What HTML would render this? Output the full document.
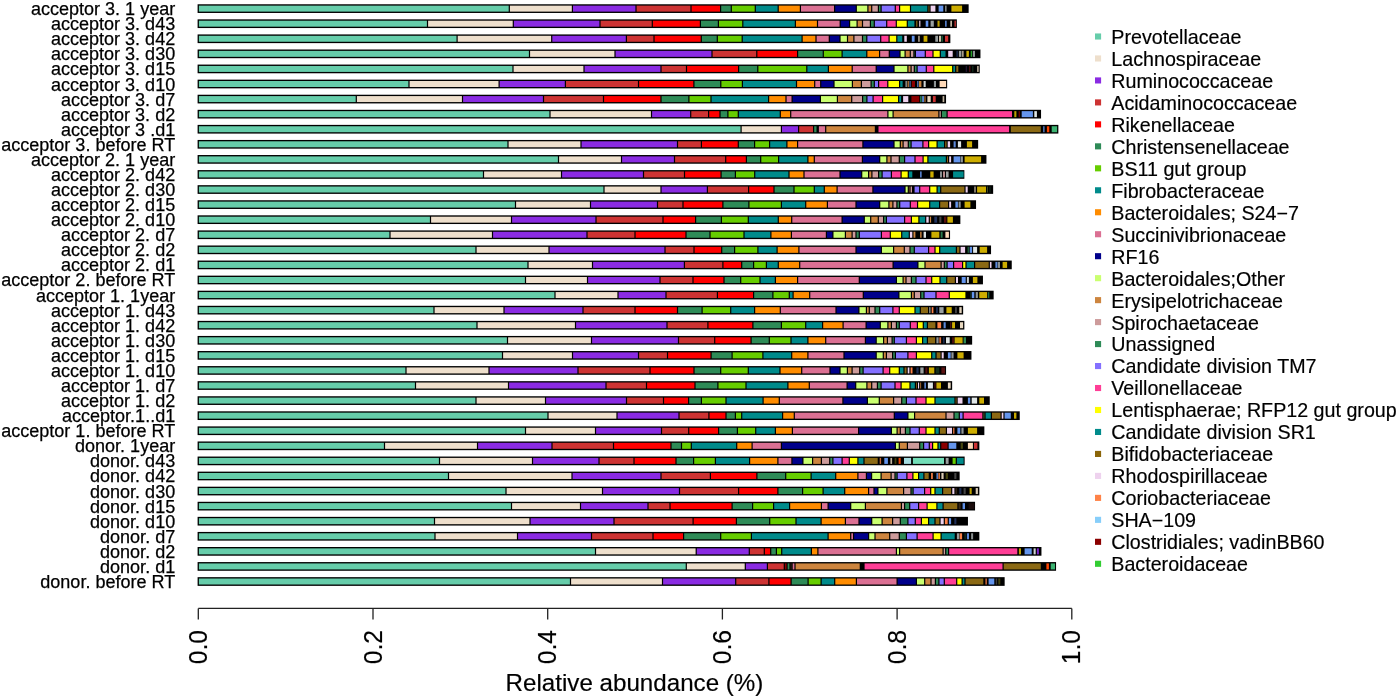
<!DOCTYPE html>
<html lang="en"><head><meta charset="utf-8"><title>Relative abundance</title>
<style>
html,body{margin:0;padding:0;background:#fff;}
body{width:1400px;height:698px;overflow:hidden;}
svg{display:block;filter:blur(0.3px);font-family:"Liberation Sans",sans-serif;}
.yl{font-size:18.03px;text-anchor:end;fill:#000;stroke:#000;stroke-width:.25px;}
.lg text{font-size:19.68px;fill:#000;stroke:#000;stroke-width:.18px;}
.tk{font-size:24.7px;text-anchor:middle;fill:#000;stroke:#000;stroke-width:.18px;}
.tt{font-size:24.17px;text-anchor:middle;fill:#000;stroke:#000;stroke-width:.18px;}
</style></head><body>
<svg width="1400" height="698" viewBox="0 0 1400 698">
<rect width="1400" height="698" fill="#fff"/>
<g shape-rendering="auto">
<g><rect x="197.6" y="4.27" width="771.05" height="8.7" fill="#000"/><rect x="198.9" y="5.62" width="309.8" height="6" fill="#66CDAA"/><rect x="509.9" y="5.62" width="61.9" height="6" fill="#EEDFCC"/><rect x="573" y="5.62" width="62.4" height="6" fill="#8A2BE2"/><rect x="636.6" y="5.62" width="53.8" height="6" fill="#CD3333"/><rect x="691.6" y="5.62" width="28.4" height="6" fill="#FF0000"/><rect x="721.2" y="5.62" width="9.5" height="6" fill="#2E8B57"/><rect x="731.9" y="5.62" width="22.8" height="6" fill="#66CD00"/><rect x="755.9" y="5.62" width="21.7" height="6" fill="#008B8B"/><rect x="778.8" y="5.62" width="21" height="6" fill="#FF8C00"/><rect x="801" y="5.62" width="33" height="6" fill="#DB7093"/><rect x="835.2" y="5.62" width="20.5" height="6" fill="#00008B"/><rect x="856.9" y="5.62" width="10.4" height="6" fill="#CAFF70"/><rect x="868.5" y="5.62" width="2.6" height="6" fill="#CD853F"/><rect x="872.3" y="5.62" width="5.5" height="6" fill="#CD9B9B"/><rect x="879" y="5.62" width="1.5" height="6" fill="#2E8B57"/><rect x="881.7" y="5.62" width="13" height="6" fill="#8470FF"/><rect x="895.9" y="5.62" width="3.1" height="6" fill="#FF3E96"/><rect x="900.2" y="5.62" width="9.7" height="6" fill="#FFFF00"/><rect x="911.1" y="5.62" width="16.2" height="6" fill="#008B8B"/><rect x="928.5" y="5.62" width="0.9" height="6" fill="#8B6914"/><rect x="930.6" y="5.62" width="4.8" height="6" fill="#EED2EE"/><rect x="938.6" y="5.62" width="4.7" height="6" fill="#6495ED"/><rect x="945" y="5.62" width="1.6" height="6" fill="#7E8383"/><rect x="951.4" y="5.62" width="10.7" height="6" fill="#CDAD00"/></g>
<g><rect x="197.6" y="19.35" width="759.25" height="8.7" fill="#000"/><rect x="198.9" y="20.7" width="228" height="6" fill="#66CDAA"/><rect x="428.1" y="20.7" width="84.6" height="6" fill="#EEDFCC"/><rect x="513.9" y="20.7" width="85.5" height="6" fill="#8A2BE2"/><rect x="600.6" y="20.7" width="51.1" height="6" fill="#CD3333"/><rect x="652.9" y="20.7" width="46.9" height="6" fill="#FF0000"/><rect x="701" y="20.7" width="16.8" height="6" fill="#2E8B57"/><rect x="719" y="20.7" width="23.2" height="6" fill="#66CD00"/><rect x="743.4" y="20.7" width="51.4" height="6" fill="#008B8B"/><rect x="796" y="20.7" width="20.9" height="6" fill="#FF8C00"/><rect x="818.1" y="20.7" width="21.5" height="6" fill="#DB7093"/><rect x="840.8" y="20.7" width="8.2" height="6" fill="#00008B"/><rect x="850.2" y="20.7" width="6.3" height="6" fill="#CAFF70"/><rect x="857.7" y="20.7" width="4.2" height="6" fill="#CD853F"/><rect x="863.1" y="20.7" width="6.7" height="6" fill="#CD9B9B"/><rect x="871" y="20.7" width="2.7" height="6" fill="#2E8B57"/><rect x="874.9" y="20.7" width="11.2" height="6" fill="#8470FF"/><rect x="887.3" y="20.7" width="8.4" height="6" fill="#FF3E96"/><rect x="896.9" y="20.7" width="9.8" height="6" fill="#FFFF00"/><rect x="907.9" y="20.7" width="6.5" height="6" fill="#008B8B"/><rect x="916" y="20.7" width="1.5" height="6" fill="#6F5410"/><rect x="919" y="20.7" width="1.5" height="6" fill="#BEA8BE"/><rect x="925.7" y="20.7" width="2.6" height="6" fill="#6495ED"/><rect x="930.6" y="20.7" width="3.2" height="6" fill="#9AA0A0"/><rect x="937.5" y="20.7" width="2.1" height="6" fill="#BC9F00"/><rect x="945" y="20.7" width="1.7" height="6" fill="#547DC7"/><rect x="950.3" y="20.7" width="1.7" height="6" fill="#C2B5A1"/><rect x="954.4" y="20.7" width="1.6" height="6" fill="#A82929"/></g>
<g><rect x="197.6" y="34.42" width="752.75" height="8.7" fill="#000"/><rect x="198.9" y="35.77" width="257.6" height="6" fill="#66CDAA"/><rect x="457.7" y="35.77" width="93.4" height="6" fill="#EEDFCC"/><rect x="552.3" y="35.77" width="73.5" height="6" fill="#8A2BE2"/><rect x="627" y="35.77" width="26.4" height="6" fill="#CD3333"/><rect x="654.6" y="35.77" width="46.1" height="6" fill="#FF0000"/><rect x="701.9" y="35.77" width="14.8" height="6" fill="#2E8B57"/><rect x="717.9" y="35.77" width="23.7" height="6" fill="#66CD00"/><rect x="742.8" y="35.77" width="58.7" height="6" fill="#008B8B"/><rect x="802.7" y="35.77" width="12.7" height="6" fill="#FF8C00"/><rect x="816.6" y="35.77" width="12.1" height="6" fill="#DB7093"/><rect x="829.9" y="35.77" width="9.5" height="6" fill="#00008B"/><rect x="840.6" y="35.77" width="6.3" height="6" fill="#CAFF70"/><rect x="848.1" y="35.77" width="5.2" height="6" fill="#CD853F"/><rect x="854.5" y="35.77" width="7.4" height="6" fill="#CD9B9B"/><rect x="863.1" y="35.77" width="3.1" height="6" fill="#2E8B57"/><rect x="867.4" y="35.77" width="12.7" height="6" fill="#8470FF"/><rect x="881.3" y="35.77" width="7.2" height="6" fill="#FF3E96"/><rect x="889.7" y="35.77" width="6.5" height="6" fill="#FFFF00"/><rect x="897.4" y="35.77" width="4.8" height="6" fill="#008B8B"/><rect x="904.3" y="35.77" width="2.5" height="6" fill="#EED2EE"/><rect x="911.8" y="35.77" width="2.8" height="6" fill="#6495ED"/><rect x="918.2" y="35.77" width="1.5" height="6" fill="#B9AC99"/><rect x="923.6" y="35.77" width="3.8" height="6" fill="#CDAD00"/><rect x="935.3" y="35.77" width="2.7" height="6" fill="#9AA0A0"/><rect x="939" y="35.77" width="2" height="6" fill="#D0C2AC"/><rect x="941.5" y="35.77" width="1.3" height="6" fill="#226942"/><rect x="945" y="35.77" width="3.2" height="6" fill="#CD3333"/></g>
<g><rect x="197.6" y="49.5" width="782.85" height="8.7" fill="#000"/><rect x="198.9" y="50.85" width="330" height="6" fill="#66CDAA"/><rect x="530.1" y="50.85" width="84.3" height="6" fill="#EEDFCC"/><rect x="615.6" y="50.85" width="95.8" height="6" fill="#8A2BE2"/><rect x="712.6" y="50.85" width="43.6" height="6" fill="#CD3333"/><rect x="757.4" y="50.85" width="39.6" height="6" fill="#FF0000"/><rect x="798.2" y="50.85" width="24.5" height="6" fill="#2E8B57"/><rect x="823.9" y="50.85" width="17.6" height="6" fill="#66CD00"/><rect x="842.7" y="50.85" width="23.5" height="6" fill="#008B8B"/><rect x="867.4" y="50.85" width="11.6" height="6" fill="#FF8C00"/><rect x="880.2" y="50.85" width="8.5" height="6" fill="#DB7093"/><rect x="889.9" y="50.85" width="9.5" height="6" fill="#00008B"/><rect x="900.6" y="50.85" width="3.9" height="6" fill="#CAFF70"/><rect x="905.7" y="50.85" width="4" height="6" fill="#CD853F"/><rect x="910.9" y="50.85" width="2.4" height="6" fill="#CD9B9B"/><rect x="914.5" y="50.85" width="0.3" height="6" fill="#2E8B57"/><rect x="916" y="50.85" width="8.7" height="6" fill="#8470FF"/><rect x="925.9" y="50.85" width="6.5" height="6" fill="#FF3E96"/><rect x="933.6" y="50.85" width="6.1" height="6" fill="#FFFF00"/><rect x="940.9" y="50.85" width="4.6" height="6" fill="#008B8B"/><rect x="948.2" y="50.85" width="4.5" height="6" fill="#EED2EE"/><rect x="956.4" y="50.85" width="1.5" height="6" fill="#1B284B"/><rect x="958.9" y="50.85" width="2.5" height="6" fill="#9AA0A0"/><rect x="962.1" y="50.85" width="1.5" height="6" fill="#B9AC99"/><rect x="966.4" y="50.85" width="2.5" height="6" fill="#CDAD00"/><rect x="970.7" y="50.85" width="1.4" height="6" fill="#269F26"/><rect x="972.9" y="50.85" width="2.1" height="6" fill="#8D9393"/></g>
<g><rect x="197.6" y="64.57" width="782.15" height="8.7" fill="#000"/><rect x="198.9" y="65.92" width="313.5" height="6" fill="#66CDAA"/><rect x="513.6" y="65.92" width="69.8" height="6" fill="#EEDFCC"/><rect x="584.6" y="65.92" width="75.8" height="6" fill="#8A2BE2"/><rect x="661.6" y="65.92" width="24.3" height="6" fill="#CD3333"/><rect x="687.1" y="65.92" width="50.9" height="6" fill="#FF0000"/><rect x="739.2" y="65.92" width="18" height="6" fill="#2E8B57"/><rect x="758.4" y="65.92" width="47.8" height="6" fill="#66CD00"/><rect x="807.4" y="65.92" width="20.4" height="6" fill="#008B8B"/><rect x="829" y="65.92" width="22.6" height="6" fill="#FF8C00"/><rect x="852.8" y="65.92" width="22.8" height="6" fill="#DB7093"/><rect x="876.8" y="65.92" width="16.6" height="6" fill="#00008B"/><rect x="894.6" y="65.92" width="12.7" height="6" fill="#CAFF70"/><rect x="908.5" y="65.92" width="2" height="6" fill="#CD853F"/><rect x="911.7" y="65.92" width="2" height="6" fill="#CD9B9B"/><rect x="914.9" y="65.92" width="1.6" height="6" fill="#2E8B57"/><rect x="917.7" y="65.92" width="8" height="6" fill="#8470FF"/><rect x="926.9" y="65.92" width="6.3" height="6" fill="#FF3E96"/><rect x="934.4" y="65.92" width="17.7" height="6" fill="#FFFF00"/><rect x="953.3" y="65.92" width="1.8" height="6" fill="#008B8B"/><rect x="956.3" y="65.92" width="2" height="6" fill="#8B6914"/><rect x="965.7" y="65.92" width="1.3" height="6" fill="#1F1330"/><rect x="969" y="65.92" width="1.5" height="6" fill="#480E0E"/><rect x="972" y="65.92" width="1.5" height="6" fill="#102618"/><rect x="977.1" y="65.92" width="1.6" height="6" fill="#BEB19D"/></g>
<g><rect x="197.6" y="79.65" width="749.55" height="8.7" fill="#000"/><rect x="198.9" y="81" width="209.5" height="6" fill="#66CDAA"/><rect x="409.6" y="81" width="88.9" height="6" fill="#EEDFCC"/><rect x="499.7" y="81" width="65.1" height="6" fill="#8A2BE2"/><rect x="566" y="81" width="71.9" height="6" fill="#CD3333"/><rect x="639.1" y="81" width="54.2" height="6" fill="#FF0000"/><rect x="694.5" y="81" width="25.7" height="6" fill="#2E8B57"/><rect x="721.4" y="81" width="20.4" height="6" fill="#66CD00"/><rect x="743" y="81" width="52.9" height="6" fill="#008B8B"/><rect x="797.1" y="81" width="17" height="6" fill="#FF8C00"/><rect x="815.3" y="81" width="4.8" height="6" fill="#DB7093"/><rect x="821.3" y="81" width="12.1" height="6" fill="#00008B"/><rect x="834.6" y="81" width="17.2" height="6" fill="#CAFF70"/><rect x="853" y="81" width="7.8" height="6" fill="#CD853F"/><rect x="862" y="81" width="8.5" height="6" fill="#CD9B9B"/><rect x="871.7" y="81" width="2" height="6" fill="#2E8B57"/><rect x="874.9" y="81" width="3.1" height="6" fill="#8470FF"/><rect x="879.2" y="81" width="8" height="6" fill="#FF3E96"/><rect x="888.4" y="81" width="10.6" height="6" fill="#FFFF00"/><rect x="900.2" y="81" width="2.4" height="6" fill="#008B8B"/><rect x="905.4" y="81" width="1.6" height="6" fill="#7E8383"/><rect x="907.5" y="81" width="1.5" height="6" fill="#A46A32"/><rect x="909.5" y="81" width="1.2" height="6" fill="#4A6EAF"/><rect x="911.8" y="81" width="3.2" height="6" fill="#8B0000"/><rect x="917.1" y="81" width="1.4" height="6" fill="#4D74B8"/><rect x="919" y="81" width="2.4" height="6" fill="#C8823D"/><rect x="923.6" y="81" width="2.1" height="6" fill="#CED3D3"/><rect x="933.9" y="81" width="2.1" height="6" fill="#8D9393"/><rect x="939.6" y="81" width="6.5" height="6" fill="#FFDAB9"/></g>
<g><rect x="197.6" y="94.73" width="748.45" height="8.7" fill="#000"/><rect x="198.9" y="96.08" width="156.8" height="6" fill="#66CDAA"/><rect x="356.9" y="96.08" width="105" height="6" fill="#EEDFCC"/><rect x="463.1" y="96.08" width="79.8" height="6" fill="#8A2BE2"/><rect x="544.1" y="96.08" width="58.8" height="6" fill="#CD3333"/><rect x="604.1" y="96.08" width="56.3" height="6" fill="#FF0000"/><rect x="661.6" y="96.08" width="26.7" height="6" fill="#2E8B57"/><rect x="689.5" y="96.08" width="20.9" height="6" fill="#66CD00"/><rect x="711.6" y="96.08" width="56.4" height="6" fill="#008B8B"/><rect x="769.2" y="96.08" width="16.2" height="6" fill="#FF8C00"/><rect x="786.6" y="96.08" width="4.9" height="6" fill="#DB7093"/><rect x="792.7" y="96.08" width="27.1" height="6" fill="#00008B"/><rect x="821" y="96.08" width="15.8" height="6" fill="#CAFF70"/><rect x="838" y="96.08" width="13.1" height="6" fill="#CD853F"/><rect x="852.3" y="96.08" width="9.7" height="6" fill="#CD9B9B"/><rect x="863.2" y="96.08" width="3.1" height="6" fill="#2E8B57"/><rect x="867.5" y="96.08" width="5" height="6" fill="#8470FF"/><rect x="873.7" y="96.08" width="8.3" height="6" fill="#FF3E96"/><rect x="883.2" y="96.08" width="14.8" height="6" fill="#FFFF00"/><rect x="899.2" y="96.08" width="1.9" height="6" fill="#008B8B"/><rect x="903.1" y="96.08" width="5.2" height="6" fill="#EED2EE"/><rect x="911.4" y="96.08" width="7.9" height="6" fill="#8B0000"/><rect x="920" y="96.08" width="1.7" height="6" fill="#267449"/><rect x="922.1" y="96.08" width="1.9" height="6" fill="#5783D0"/><rect x="924.3" y="96.08" width="1.4" height="6" fill="#9F6731"/><rect x="927.4" y="96.08" width="3.3" height="6" fill="#E8D8C0"/><rect x="932.9" y="96.08" width="2.8" height="6" fill="#CD3333"/><rect x="942.6" y="96.08" width="1.7" height="6" fill="#C2B5A1"/></g>
<g><rect x="197.6" y="109.8" width="843.45" height="8.7" fill="#000"/><rect x="198.9" y="111.15" width="350.5" height="6" fill="#66CDAA"/><rect x="550.6" y="111.15" width="100.3" height="6" fill="#EEDFCC"/><rect x="652.1" y="111.15" width="38" height="6" fill="#8A2BE2"/><rect x="691.3" y="111.15" width="16.7" height="6" fill="#CD3333"/><rect x="709.2" y="111.15" width="10.2" height="6" fill="#FF0000"/><rect x="720.6" y="111.15" width="6.7" height="6" fill="#2E8B57"/><rect x="728.5" y="111.15" width="9.2" height="6" fill="#66CD00"/><rect x="738.9" y="111.15" width="40.8" height="6" fill="#008B8B"/><rect x="780.9" y="111.15" width="9.2" height="6" fill="#FF8C00"/><rect x="791.3" y="111.15" width="96" height="6" fill="#DB7093"/><rect x="888.5" y="111.15" width="4" height="6" fill="#CAFF70"/><rect x="893.7" y="111.15" width="44.6" height="6" fill="#CD853F"/><rect x="939.5" y="111.15" width="1.3" height="6" fill="#CD9B9B"/><rect x="942" y="111.15" width="4.5" height="6" fill="#2E8B57"/><rect x="947.7" y="111.15" width="64.3" height="6" fill="#FF3E96"/><rect x="1014.3" y="111.15" width="2.1" height="6" fill="#BC9F00"/><rect x="1018.6" y="111.15" width="1.4" height="6" fill="#6C0000"/><rect x="1021.7" y="111.15" width="11.2" height="6" fill="#6495ED"/><rect x="1034.3" y="111.15" width="2.6" height="6" fill="#E0E6E6"/></g>
<g><rect x="197.6" y="124.88" width="860.75" height="8.7" fill="#000"/><rect x="198.9" y="126.23" width="541.6" height="6" fill="#66CDAA"/><rect x="741.7" y="126.23" width="39.1" height="6" fill="#EEDFCC"/><rect x="782" y="126.23" width="16" height="6" fill="#8A2BE2"/><rect x="799.2" y="126.23" width="13.8" height="6" fill="#CD3333"/><rect x="814.2" y="126.23" width="2.3" height="6" fill="#2E8B57"/><rect x="818.9" y="126.23" width="6.2" height="6" fill="#DB7093"/><rect x="826.3" y="126.23" width="48.5" height="6" fill="#CD853F"/><rect x="878.5" y="126.23" width="130.6" height="6" fill="#FF3E96"/><rect x="1010.8" y="126.23" width="30" height="6" fill="#8B6914"/><rect x="1043.1" y="126.23" width="1.5" height="6" fill="#5077BD"/><rect x="1046.9" y="126.23" width="2.4" height="6" fill="#F94300"/><rect x="1051.7" y="126.23" width="5.4" height="6" fill="#3CB371"/></g>
<g><rect x="197.6" y="139.95" width="780.55" height="8.7" fill="#000"/><rect x="198.9" y="141.3" width="308.5" height="6" fill="#66CDAA"/><rect x="508.6" y="141.3" width="71.8" height="6" fill="#EEDFCC"/><rect x="581.6" y="141.3" width="95.3" height="6" fill="#8A2BE2"/><rect x="678.1" y="141.3" width="22.7" height="6" fill="#CD3333"/><rect x="702" y="141.3" width="35.7" height="6" fill="#FF0000"/><rect x="738.9" y="141.3" width="15.1" height="6" fill="#2E8B57"/><rect x="755.2" y="141.3" width="13.8" height="6" fill="#66CD00"/><rect x="770.2" y="141.3" width="16.1" height="6" fill="#008B8B"/><rect x="787.5" y="141.3" width="9.5" height="6" fill="#FF8C00"/><rect x="798.2" y="141.3" width="64.1" height="6" fill="#DB7093"/><rect x="863.5" y="141.3" width="29.9" height="6" fill="#00008B"/><rect x="894.6" y="141.3" width="5.1" height="6" fill="#CAFF70"/><rect x="900.9" y="141.3" width="1.6" height="6" fill="#CD853F"/><rect x="903.7" y="141.3" width="4" height="6" fill="#CD9B9B"/><rect x="908.9" y="141.3" width="1.6" height="6" fill="#2E8B57"/><rect x="911.7" y="141.3" width="10.6" height="6" fill="#8470FF"/><rect x="923.5" y="141.3" width="4.5" height="6" fill="#FF3E96"/><rect x="929.2" y="141.3" width="7.3" height="6" fill="#FFFF00"/><rect x="937.7" y="141.3" width="6.3" height="6" fill="#008B8B"/><rect x="945.2" y="141.3" width="1.3" height="6" fill="#8B6914"/><rect x="947.7" y="141.3" width="2.4" height="6" fill="#EED2EE"/><rect x="953.6" y="141.3" width="2.1" height="6" fill="#5C89DA"/><rect x="957.9" y="141.3" width="3.2" height="6" fill="#E0E6E6"/><rect x="966.9" y="141.3" width="5.2" height="6" fill="#CDAD00"/></g>
<g><rect x="197.6" y="155.03" width="788.85" height="8.7" fill="#000"/><rect x="198.9" y="156.38" width="359" height="6" fill="#66CDAA"/><rect x="559.1" y="156.38" width="61.8" height="6" fill="#EEDFCC"/><rect x="622.1" y="156.38" width="51.8" height="6" fill="#8A2BE2"/><rect x="675.1" y="156.38" width="50" height="6" fill="#CD3333"/><rect x="726.3" y="156.38" width="19.5" height="6" fill="#FF0000"/><rect x="747" y="156.38" width="13.1" height="6" fill="#2E8B57"/><rect x="761.3" y="156.38" width="16.7" height="6" fill="#66CD00"/><rect x="779.2" y="156.38" width="28.1" height="6" fill="#008B8B"/><rect x="808.5" y="156.38" width="5.2" height="6" fill="#FF8C00"/><rect x="814.9" y="156.38" width="46.9" height="6" fill="#DB7093"/><rect x="863" y="156.38" width="16.1" height="6" fill="#00008B"/><rect x="880.3" y="156.38" width="6" height="6" fill="#CAFF70"/><rect x="887.5" y="156.38" width="2.9" height="6" fill="#CD853F"/><rect x="891.6" y="156.38" width="7.1" height="6" fill="#CD9B9B"/><rect x="899.9" y="156.38" width="4.1" height="6" fill="#2E8B57"/><rect x="905.2" y="156.38" width="9.2" height="6" fill="#8470FF"/><rect x="915.6" y="156.38" width="6.9" height="6" fill="#FF3E96"/><rect x="923.7" y="156.38" width="3.6" height="6" fill="#FFFF00"/><rect x="928.5" y="156.38" width="17.3" height="6" fill="#008B8B"/><rect x="947" y="156.38" width="1" height="6" fill="#8B6914"/><rect x="949.2" y="156.38" width="1.9" height="6" fill="#EED2EE"/><rect x="953.6" y="156.38" width="6.7" height="6" fill="#6495ED"/><rect x="960.7" y="156.38" width="2.2" height="6" fill="#909696"/><rect x="964.6" y="156.38" width="16.5" height="6" fill="#CDAD00"/></g>
<g><rect x="197.6" y="170.11" width="766.75" height="8.7" fill="#000"/><rect x="198.9" y="171.46" width="284" height="6" fill="#66CDAA"/><rect x="484.1" y="171.46" width="76.8" height="6" fill="#EEDFCC"/><rect x="562.1" y="171.46" width="80.8" height="6" fill="#8A2BE2"/><rect x="644.1" y="171.46" width="39.8" height="6" fill="#CD3333"/><rect x="685.1" y="171.46" width="35.4" height="6" fill="#FF0000"/><rect x="721.7" y="171.46" width="13.1" height="6" fill="#2E8B57"/><rect x="736" y="171.46" width="18.1" height="6" fill="#66CD00"/><rect x="755.3" y="171.46" width="33.1" height="6" fill="#008B8B"/><rect x="789.6" y="171.46" width="13.8" height="6" fill="#FF8C00"/><rect x="804.6" y="171.46" width="34.8" height="6" fill="#DB7093"/><rect x="840.6" y="171.46" width="20.5" height="6" fill="#00008B"/><rect x="862.3" y="171.46" width="5.7" height="6" fill="#CAFF70"/><rect x="869.2" y="171.46" width="2.1" height="6" fill="#CD853F"/><rect x="872.5" y="171.46" width="5.5" height="6" fill="#CD9B9B"/><rect x="879.2" y="171.46" width="2.3" height="6" fill="#2E8B57"/><rect x="882.7" y="171.46" width="8.1" height="6" fill="#8470FF"/><rect x="892" y="171.46" width="8.5" height="6" fill="#FF3E96"/><rect x="901.7" y="171.46" width="6" height="6" fill="#FFFF00"/><rect x="908.9" y="171.46" width="3.4" height="6" fill="#008B8B"/><rect x="920" y="171.46" width="1.7" height="6" fill="#547DC7"/><rect x="930.3" y="171.46" width="3.3" height="6" fill="#CDAD00"/><rect x="940" y="171.46" width="2" height="6" fill="#8A9090"/><rect x="943" y="171.46" width="2" height="6" fill="#B88B8B"/><rect x="946" y="171.46" width="2.6" height="6" fill="#9AA0A0"/><rect x="953.1" y="171.46" width="10.5" height="6" fill="#008B8B"/></g>
<g><rect x="197.6" y="185.18" width="795.55" height="8.7" fill="#000"/><rect x="198.9" y="186.53" width="404.5" height="6" fill="#66CDAA"/><rect x="604.6" y="186.53" width="55.8" height="6" fill="#EEDFCC"/><rect x="661.6" y="186.53" width="45.2" height="6" fill="#8A2BE2"/><rect x="708" y="186.53" width="40" height="6" fill="#CD3333"/><rect x="749.2" y="186.53" width="24.2" height="6" fill="#FF0000"/><rect x="774.6" y="186.53" width="18.8" height="6" fill="#2E8B57"/><rect x="794.6" y="186.53" width="19.1" height="6" fill="#66CD00"/><rect x="814.9" y="186.53" width="8.8" height="6" fill="#008B8B"/><rect x="824.9" y="186.53" width="11.6" height="6" fill="#FF8C00"/><rect x="837.7" y="186.53" width="34.6" height="6" fill="#DB7093"/><rect x="873.5" y="186.53" width="30.9" height="6" fill="#00008B"/><rect x="905.6" y="186.53" width="2.1" height="6" fill="#CAFF70"/><rect x="908.9" y="186.53" width="0.5" height="6" fill="#CD853F"/><rect x="910.6" y="186.53" width="1.4" height="6" fill="#CD9B9B"/><rect x="914.6" y="186.53" width="4.5" height="6" fill="#8470FF"/><rect x="920.3" y="186.53" width="8.8" height="6" fill="#FF3E96"/><rect x="930.3" y="186.53" width="6.2" height="6" fill="#FFFF00"/><rect x="937.7" y="186.53" width="2.4" height="6" fill="#008B8B"/><rect x="941.3" y="186.53" width="23.1" height="6" fill="#8B6914"/><rect x="965.6" y="186.53" width="2.1" height="6" fill="#EED2EE"/><rect x="974.3" y="186.53" width="1.4" height="6" fill="#B4A895"/><rect x="977.1" y="186.53" width="8.9" height="6" fill="#CDAD00"/><rect x="986.9" y="186.53" width="1.1" height="6" fill="#3D4D21"/><rect x="989.3" y="186.53" width="1.3" height="6" fill="#0F2416"/></g>
<g><rect x="197.6" y="200.26" width="778.45" height="8.7" fill="#000"/><rect x="198.9" y="201.61" width="316" height="6" fill="#66CDAA"/><rect x="516.1" y="201.61" width="73.8" height="6" fill="#EEDFCC"/><rect x="591.1" y="201.61" width="65.8" height="6" fill="#8A2BE2"/><rect x="658.1" y="201.61" width="24.3" height="6" fill="#CD3333"/><rect x="683.6" y="201.61" width="38.7" height="6" fill="#FF0000"/><rect x="723.5" y="201.61" width="24.8" height="6" fill="#2E8B57"/><rect x="749.5" y="201.61" width="31.3" height="6" fill="#66CD00"/><rect x="782" y="201.61" width="23.1" height="6" fill="#008B8B"/><rect x="806.3" y="201.61" width="20.5" height="6" fill="#FF8C00"/><rect x="828" y="201.61" width="27.4" height="6" fill="#DB7093"/><rect x="856.6" y="201.61" width="22.5" height="6" fill="#00008B"/><rect x="880.3" y="201.61" width="8" height="6" fill="#CAFF70"/><rect x="889.5" y="201.61" width="2.8" height="6" fill="#CD853F"/><rect x="893.5" y="201.61" width="2.8" height="6" fill="#CD9B9B"/><rect x="897.5" y="201.61" width="1.6" height="6" fill="#2E8B57"/><rect x="900.3" y="201.61" width="9.4" height="6" fill="#8470FF"/><rect x="910.9" y="201.61" width="6.1" height="6" fill="#FF3E96"/><rect x="918.2" y="201.61" width="10.9" height="6" fill="#FFFF00"/><rect x="930.3" y="201.61" width="8.7" height="6" fill="#008B8B"/><rect x="940.2" y="201.61" width="7.8" height="6" fill="#8B6914"/><rect x="949.2" y="201.61" width="1.9" height="6" fill="#EED2EE"/><rect x="955.4" y="201.61" width="2.5" height="6" fill="#6495ED"/><rect x="958.6" y="201.61" width="2.1" height="6" fill="#8D9393"/><rect x="964.6" y="201.61" width="5.8" height="6" fill="#CDAD00"/></g>
<g><rect x="197.6" y="215.33" width="762.75" height="8.7" fill="#000"/><rect x="198.9" y="216.68" width="231" height="6" fill="#66CDAA"/><rect x="431.1" y="216.68" width="79.8" height="6" fill="#EEDFCC"/><rect x="512.1" y="216.68" width="83.3" height="6" fill="#8A2BE2"/><rect x="596.6" y="216.68" width="65.8" height="6" fill="#CD3333"/><rect x="663.6" y="216.68" width="31.4" height="6" fill="#FF0000"/><rect x="696.2" y="216.68" width="24.6" height="6" fill="#2E8B57"/><rect x="722" y="216.68" width="25.7" height="6" fill="#66CD00"/><rect x="748.9" y="216.68" width="28.8" height="6" fill="#008B8B"/><rect x="778.9" y="216.68" width="12.2" height="6" fill="#FF8C00"/><rect x="792.3" y="216.68" width="49.2" height="6" fill="#DB7093"/><rect x="842.7" y="216.68" width="21" height="6" fill="#00008B"/><rect x="864.9" y="216.68" width="5.2" height="6" fill="#CAFF70"/><rect x="871.3" y="216.68" width="6.4" height="6" fill="#CD853F"/><rect x="878.9" y="216.68" width="4.1" height="6" fill="#CD9B9B"/><rect x="884.2" y="216.68" width="1.6" height="6" fill="#2E8B57"/><rect x="887" y="216.68" width="17" height="6" fill="#8470FF"/><rect x="905.2" y="216.68" width="5.6" height="6" fill="#FF3E96"/><rect x="912" y="216.68" width="6.3" height="6" fill="#FFFF00"/><rect x="919.5" y="216.68" width="5.6" height="6" fill="#008B8B"/><rect x="926.3" y="216.68" width="2.4" height="6" fill="#EED2EE"/><rect x="929.9" y="216.68" width="1.2" height="6" fill="#CD853F"/><rect x="934.3" y="216.68" width="2.8" height="6" fill="#22335E"/><rect x="939.3" y="216.68" width="2.1" height="6" fill="#444444"/><rect x="944" y="216.68" width="2.4" height="6" fill="#581111"/><rect x="947.4" y="216.68" width="5.5" height="6" fill="#CDAD00"/></g>
<g><rect x="197.6" y="230.41" width="752.45" height="8.7" fill="#000"/><rect x="198.9" y="231.76" width="190.5" height="6" fill="#66CDAA"/><rect x="390.6" y="231.76" width="101.3" height="6" fill="#EEDFCC"/><rect x="493.1" y="231.76" width="93.3" height="6" fill="#8A2BE2"/><rect x="587.6" y="231.76" width="46.8" height="6" fill="#CD3333"/><rect x="635.6" y="231.76" width="49.8" height="6" fill="#FF0000"/><rect x="686.6" y="231.76" width="22.8" height="6" fill="#2E8B57"/><rect x="710.6" y="231.76" width="32.8" height="6" fill="#66CD00"/><rect x="744.6" y="231.76" width="25.7" height="6" fill="#008B8B"/><rect x="771.5" y="231.76" width="19.3" height="6" fill="#FF8C00"/><rect x="792" y="231.76" width="33.8" height="6" fill="#DB7093"/><rect x="827" y="231.76" width="5.3" height="6" fill="#00008B"/><rect x="833.5" y="231.76" width="11.3" height="6" fill="#CAFF70"/><rect x="846" y="231.76" width="5.5" height="6" fill="#CD853F"/><rect x="852.7" y="231.76" width="2.7" height="6" fill="#CD9B9B"/><rect x="856.6" y="231.76" width="2.1" height="6" fill="#2E8B57"/><rect x="859.9" y="231.76" width="20.9" height="6" fill="#8470FF"/><rect x="882" y="231.76" width="7.7" height="6" fill="#FF3E96"/><rect x="890.9" y="231.76" width="10.2" height="6" fill="#FFFF00"/><rect x="902.3" y="231.76" width="6.4" height="6" fill="#008B8B"/><rect x="909.9" y="231.76" width="2.4" height="6" fill="#EED2EE"/><rect x="913.5" y="231.76" width="1.9" height="6" fill="#CD853F"/><rect x="920" y="231.76" width="1.7" height="6" fill="#AC6F34"/><rect x="923.6" y="231.76" width="2.4" height="6" fill="#DBE1E1"/><rect x="931.4" y="231.76" width="7.9" height="6" fill="#CDAD00"/><rect x="940.7" y="231.76" width="1.9" height="6" fill="#287A4C"/><rect x="945.4" y="231.76" width="3.5" height="6" fill="#FFDAB9"/></g>
<g><rect x="197.6" y="245.49" width="793.45" height="8.7" fill="#000"/><rect x="198.9" y="246.84" width="276.5" height="6" fill="#66CDAA"/><rect x="476.6" y="246.84" width="71.8" height="6" fill="#EEDFCC"/><rect x="549.6" y="246.84" width="114.8" height="6" fill="#8A2BE2"/><rect x="665.6" y="246.84" width="27.8" height="6" fill="#CD3333"/><rect x="694.6" y="246.84" width="26.5" height="6" fill="#FF0000"/><rect x="722.3" y="246.84" width="11.7" height="6" fill="#2E8B57"/><rect x="735.2" y="246.84" width="22.1" height="6" fill="#66CD00"/><rect x="758.5" y="246.84" width="18" height="6" fill="#008B8B"/><rect x="777.7" y="246.84" width="20.6" height="6" fill="#FF8C00"/><rect x="799.5" y="246.84" width="55.9" height="6" fill="#DB7093"/><rect x="856.6" y="246.84" width="24.2" height="6" fill="#00008B"/><rect x="882" y="246.84" width="11" height="6" fill="#CAFF70"/><rect x="894.2" y="246.84" width="9.5" height="6" fill="#CD853F"/><rect x="904.9" y="246.84" width="4.5" height="6" fill="#CD9B9B"/><rect x="910.6" y="246.84" width="3.1" height="6" fill="#2E8B57"/><rect x="914.9" y="246.84" width="13.1" height="6" fill="#8470FF"/><rect x="929.2" y="246.84" width="5.2" height="6" fill="#FF3E96"/><rect x="935.6" y="246.84" width="3.5" height="6" fill="#FFFF00"/><rect x="940.3" y="246.84" width="15.5" height="6" fill="#008B8B"/><rect x="957" y="246.84" width="2.4" height="6" fill="#8B6914"/><rect x="960.6" y="246.84" width="4.5" height="6" fill="#EED2EE"/><rect x="967.6" y="246.84" width="1.3" height="6" fill="#226942"/><rect x="969.7" y="246.84" width="2.4" height="6" fill="#6192E8"/><rect x="973.1" y="246.84" width="4" height="6" fill="#E0E6E6"/><rect x="979.7" y="246.84" width="7.4" height="6" fill="#CDAD00"/></g>
<g><rect x="197.6" y="260.56" width="814.15" height="8.7" fill="#000"/><rect x="198.9" y="261.91" width="328.5" height="6" fill="#66CDAA"/><rect x="528.6" y="261.91" width="63.3" height="6" fill="#EEDFCC"/><rect x="593.1" y="261.91" width="90.7" height="6" fill="#8A2BE2"/><rect x="685" y="261.91" width="37.3" height="6" fill="#CD3333"/><rect x="723.5" y="261.91" width="17.6" height="6" fill="#FF0000"/><rect x="742.3" y="261.91" width="10.7" height="6" fill="#2E8B57"/><rect x="754.2" y="261.91" width="11.6" height="6" fill="#66CD00"/><rect x="767" y="261.91" width="10.7" height="6" fill="#008B8B"/><rect x="778.9" y="261.91" width="20.2" height="6" fill="#FF8C00"/><rect x="800.3" y="261.91" width="92.2" height="6" fill="#DB7093"/><rect x="893.7" y="261.91" width="23.6" height="6" fill="#00008B"/><rect x="918.5" y="261.91" width="5.9" height="6" fill="#CAFF70"/><rect x="925.6" y="261.91" width="14.9" height="6" fill="#CD853F"/><rect x="941.7" y="261.91" width="2" height="6" fill="#CD9B9B"/><rect x="944.9" y="261.91" width="1.6" height="6" fill="#2E8B57"/><rect x="947.7" y="261.91" width="5.3" height="6" fill="#8470FF"/><rect x="954.2" y="261.91" width="7.8" height="6" fill="#FF3E96"/><rect x="963.2" y="261.91" width="2.2" height="6" fill="#FFFF00"/><rect x="966.6" y="261.91" width="7.4" height="6" fill="#008B8B"/><rect x="975.2" y="261.91" width="13.5" height="6" fill="#8B6914"/><rect x="989.9" y="261.91" width="1.6" height="6" fill="#EED2EE"/><rect x="995.4" y="261.91" width="2.1" height="6" fill="#5C89DA"/><rect x="998" y="261.91" width="2" height="6" fill="#8A9090"/><rect x="1002.6" y="261.91" width="4.5" height="6" fill="#CDAD00"/></g>
<g><rect x="197.6" y="275.64" width="785.35" height="8.7" fill="#000"/><rect x="198.9" y="276.99" width="326" height="6" fill="#66CDAA"/><rect x="526.1" y="276.99" width="60.8" height="6" fill="#EEDFCC"/><rect x="588.1" y="276.99" width="71.3" height="6" fill="#8A2BE2"/><rect x="660.6" y="276.99" width="31.8" height="6" fill="#CD3333"/><rect x="693.6" y="276.99" width="29.8" height="6" fill="#FF0000"/><rect x="724.6" y="276.99" width="15.5" height="6" fill="#2E8B57"/><rect x="741.3" y="276.99" width="18.1" height="6" fill="#66CD00"/><rect x="760.6" y="276.99" width="14.2" height="6" fill="#008B8B"/><rect x="776" y="276.99" width="21" height="6" fill="#FF8C00"/><rect x="798.2" y="276.99" width="60.5" height="6" fill="#DB7093"/><rect x="859.9" y="276.99" width="35.9" height="6" fill="#00008B"/><rect x="897" y="276.99" width="5.5" height="6" fill="#CAFF70"/><rect x="903.7" y="276.99" width="1.7" height="6" fill="#CD853F"/><rect x="906.6" y="276.99" width="4.2" height="6" fill="#CD9B9B"/><rect x="912" y="276.99" width="3.4" height="6" fill="#2E8B57"/><rect x="916.6" y="276.99" width="8.8" height="6" fill="#8470FF"/><rect x="926.6" y="276.99" width="4.5" height="6" fill="#FF3E96"/><rect x="932.3" y="276.99" width="7.1" height="6" fill="#FFFF00"/><rect x="940.6" y="276.99" width="5.5" height="6" fill="#008B8B"/><rect x="947.3" y="276.99" width="7.5" height="6" fill="#8B6914"/><rect x="956" y="276.99" width="2" height="6" fill="#EED2EE"/><rect x="961.7" y="276.99" width="4" height="6" fill="#6495ED"/><rect x="966.9" y="276.99" width="2" height="6" fill="#C9CFCF"/><rect x="972.9" y="276.99" width="4.5" height="6" fill="#CDAD00"/></g>
<g><rect x="197.6" y="290.71" width="796.05" height="8.7" fill="#000"/><rect x="198.9" y="292.06" width="355.5" height="6" fill="#66CDAA"/><rect x="555.6" y="292.06" width="61.8" height="6" fill="#EEDFCC"/><rect x="618.6" y="292.06" width="46.8" height="6" fill="#8A2BE2"/><rect x="666.6" y="292.06" width="50.2" height="6" fill="#CD3333"/><rect x="718" y="292.06" width="35" height="6" fill="#FF0000"/><rect x="754.2" y="292.06" width="18.1" height="6" fill="#2E8B57"/><rect x="773.5" y="292.06" width="15.2" height="6" fill="#66CD00"/><rect x="789.9" y="292.06" width="2.6" height="6" fill="#008B8B"/><rect x="793.7" y="292.06" width="15.4" height="6" fill="#FF8C00"/><rect x="810.3" y="292.06" width="52.4" height="6" fill="#DB7093"/><rect x="863.9" y="292.06" width="34.4" height="6" fill="#00008B"/><rect x="899.5" y="292.06" width="11.3" height="6" fill="#CAFF70"/><rect x="912" y="292.06" width="1.7" height="6" fill="#CD853F"/><rect x="914.9" y="292.06" width="5.2" height="6" fill="#CD9B9B"/><rect x="921.3" y="292.06" width="2.1" height="6" fill="#2E8B57"/><rect x="924.6" y="292.06" width="10.8" height="6" fill="#8470FF"/><rect x="936.6" y="292.06" width="12.1" height="6" fill="#FF3E96"/><rect x="949.9" y="292.06" width="15.5" height="6" fill="#FFFF00"/><rect x="970" y="292.06" width="1.4" height="6" fill="#0F2517"/><rect x="971.8" y="292.06" width="2.5" height="6" fill="#6495ED"/><rect x="975.7" y="292.06" width="2.2" height="6" fill="#909696"/><rect x="979.3" y="292.06" width="7.8" height="6" fill="#CDAD00"/><rect x="987.9" y="292.06" width="1.4" height="6" fill="#236C43"/></g>
<g><rect x="197.6" y="305.79" width="765.55" height="8.7" fill="#000"/><rect x="198.9" y="307.14" width="234.5" height="6" fill="#66CDAA"/><rect x="434.6" y="307.14" width="68.8" height="6" fill="#EEDFCC"/><rect x="504.6" y="307.14" width="77.8" height="6" fill="#8A2BE2"/><rect x="583.6" y="307.14" width="50.8" height="6" fill="#CD3333"/><rect x="635.6" y="307.14" width="41.3" height="6" fill="#FF0000"/><rect x="678.1" y="307.14" width="23.4" height="6" fill="#2E8B57"/><rect x="702.7" y="307.14" width="27.4" height="6" fill="#66CD00"/><rect x="731.3" y="307.14" width="22.7" height="6" fill="#008B8B"/><rect x="755.2" y="307.14" width="24.5" height="6" fill="#FF8C00"/><rect x="780.9" y="307.14" width="54.5" height="6" fill="#DB7093"/><rect x="836.6" y="307.14" width="21.7" height="6" fill="#00008B"/><rect x="859.5" y="307.14" width="6.3" height="6" fill="#CAFF70"/><rect x="867" y="307.14" width="1.7" height="6" fill="#CD853F"/><rect x="869.9" y="307.14" width="4.5" height="6" fill="#CD9B9B"/><rect x="875.6" y="307.14" width="3.5" height="6" fill="#2E8B57"/><rect x="880.3" y="307.14" width="12" height="6" fill="#8470FF"/><rect x="893.5" y="307.14" width="5.2" height="6" fill="#FF3E96"/><rect x="899.9" y="307.14" width="14.5" height="6" fill="#FFFF00"/><rect x="915.6" y="307.14" width="4.1" height="6" fill="#008B8B"/><rect x="920.9" y="307.14" width="7.1" height="6" fill="#8B6914"/><rect x="929.2" y="307.14" width="1.3" height="6" fill="#9AA0A0"/><rect x="931.7" y="307.14" width="1.7" height="6" fill="#FF8247"/><rect x="936" y="307.14" width="1.9" height="6" fill="#1D2C52"/><rect x="939.3" y="307.14" width="4.3" height="6" fill="#9AA0A0"/><rect x="946.4" y="307.14" width="5.3" height="6" fill="#CDAD00"/><rect x="955" y="307.14" width="1.9" height="6" fill="#414141"/><rect x="959.3" y="307.14" width="2.4" height="6" fill="#E3D3BC"/></g>
<g><rect x="197.6" y="320.87" width="766.75" height="8.7" fill="#000"/><rect x="198.9" y="322.22" width="277.5" height="6" fill="#66CDAA"/><rect x="477.6" y="322.22" width="97.3" height="6" fill="#EEDFCC"/><rect x="576.1" y="322.22" width="90.3" height="6" fill="#8A2BE2"/><rect x="667.6" y="322.22" width="39.7" height="6" fill="#CD3333"/><rect x="708.5" y="322.22" width="43.8" height="6" fill="#FF0000"/><rect x="753.5" y="322.22" width="27.3" height="6" fill="#2E8B57"/><rect x="782" y="322.22" width="23.1" height="6" fill="#66CD00"/><rect x="806.3" y="322.22" width="15.7" height="6" fill="#008B8B"/><rect x="823.2" y="322.22" width="19.3" height="6" fill="#FF8C00"/><rect x="843.7" y="322.22" width="21.8" height="6" fill="#DB7093"/><rect x="866.7" y="322.22" width="13" height="6" fill="#00008B"/><rect x="880.9" y="322.22" width="6.4" height="6" fill="#CAFF70"/><rect x="888.5" y="322.22" width="2.3" height="6" fill="#CD853F"/><rect x="892" y="322.22" width="3.8" height="6" fill="#CD9B9B"/><rect x="897" y="322.22" width="1.7" height="6" fill="#2E8B57"/><rect x="899.9" y="322.22" width="9.8" height="6" fill="#8470FF"/><rect x="910.9" y="322.22" width="5.9" height="6" fill="#FF3E96"/><rect x="918" y="322.22" width="4.7" height="6" fill="#FFFF00"/><rect x="923.9" y="322.22" width="2.9" height="6" fill="#008B8B"/><rect x="928" y="322.22" width="7.4" height="6" fill="#8B6914"/><rect x="937.4" y="322.22" width="3.7" height="6" fill="#FF8247"/><rect x="943.6" y="322.22" width="2.1" height="6" fill="#5C89DA"/><rect x="950" y="322.22" width="1.4" height="6" fill="#460E0E"/><rect x="952.1" y="322.22" width="2.9" height="6" fill="#CDAD00"/><rect x="960" y="322.22" width="3.1" height="6" fill="#E8D8C0"/></g>
<g><rect x="197.6" y="335.94" width="774.55" height="8.7" fill="#000"/><rect x="198.9" y="337.29" width="308" height="6" fill="#66CDAA"/><rect x="508.1" y="337.29" width="82.8" height="6" fill="#EEDFCC"/><rect x="592.1" y="337.29" width="85.8" height="6" fill="#8A2BE2"/><rect x="679.1" y="337.29" width="35" height="6" fill="#CD3333"/><rect x="715.3" y="337.29" width="35.2" height="6" fill="#FF0000"/><rect x="751.7" y="337.29" width="17" height="6" fill="#2E8B57"/><rect x="769.9" y="337.29" width="20.5" height="6" fill="#66CD00"/><rect x="791.6" y="337.29" width="15.7" height="6" fill="#008B8B"/><rect x="808.5" y="337.29" width="16.6" height="6" fill="#FF8C00"/><rect x="826.3" y="337.29" width="38.5" height="6" fill="#DB7093"/><rect x="866" y="337.29" width="9.6" height="6" fill="#00008B"/><rect x="876.8" y="337.29" width="6.2" height="6" fill="#CAFF70"/><rect x="884.2" y="337.29" width="2.6" height="6" fill="#CD853F"/><rect x="888" y="337.29" width="3.5" height="6" fill="#CD9B9B"/><rect x="892.7" y="337.29" width="1" height="6" fill="#2E8B57"/><rect x="894.9" y="337.29" width="10.9" height="6" fill="#8470FF"/><rect x="907" y="337.29" width="8.8" height="6" fill="#FF3E96"/><rect x="917" y="337.29" width="5" height="6" fill="#FFFF00"/><rect x="923.2" y="337.29" width="3.6" height="6" fill="#008B8B"/><rect x="928" y="337.29" width="7.1" height="6" fill="#8B6914"/><rect x="936.4" y="337.29" width="2.2" height="6" fill="#909696"/><rect x="939.3" y="337.29" width="1.8" height="6" fill="#DB6F3D"/><rect x="942.9" y="337.29" width="1.7" height="6" fill="#1C2A4E"/><rect x="946" y="337.29" width="3.7" height="6" fill="#E0E6E6"/><rect x="952.1" y="337.29" width="1.9" height="6" fill="#4F0F0F"/><rect x="954.6" y="337.29" width="8" height="6" fill="#CDAD00"/><rect x="963.6" y="337.29" width="2.4" height="6" fill="#2D8855"/></g>
<g><rect x="197.6" y="351.02" width="773.85" height="8.7" fill="#000"/><rect x="198.9" y="352.37" width="303" height="6" fill="#66CDAA"/><rect x="503.1" y="352.37" width="68.8" height="6" fill="#EEDFCC"/><rect x="573.1" y="352.37" width="64.8" height="6" fill="#8A2BE2"/><rect x="639.1" y="352.37" width="27.8" height="6" fill="#CD3333"/><rect x="668.1" y="352.37" width="42.4" height="6" fill="#FF0000"/><rect x="711.7" y="352.37" width="19.8" height="6" fill="#2E8B57"/><rect x="732.7" y="352.37" width="29.6" height="6" fill="#66CD00"/><rect x="763.5" y="352.37" width="27.6" height="6" fill="#008B8B"/><rect x="792.3" y="352.37" width="15" height="6" fill="#FF8C00"/><rect x="808.5" y="352.37" width="34.9" height="6" fill="#DB7093"/><rect x="844.6" y="352.37" width="31" height="6" fill="#00008B"/><rect x="876.8" y="352.37" width="5.9" height="6" fill="#CAFF70"/><rect x="883.9" y="352.37" width="1.9" height="6" fill="#CD853F"/><rect x="887" y="352.37" width="5" height="6" fill="#CD9B9B"/><rect x="893.2" y="352.37" width="1.6" height="6" fill="#2E8B57"/><rect x="896" y="352.37" width="11.3" height="6" fill="#8470FF"/><rect x="908.5" y="352.37" width="7.3" height="6" fill="#FF3E96"/><rect x="917" y="352.37" width="14.1" height="6" fill="#FFFF00"/><rect x="932.3" y="352.37" width="3.1" height="6" fill="#008B8B"/><rect x="936.6" y="352.37" width="3.9" height="6" fill="#8B6914"/><rect x="941.7" y="352.37" width="2" height="6" fill="#EED2EE"/><rect x="947.9" y="352.37" width="2.8" height="6" fill="#6495ED"/><rect x="951.4" y="352.37" width="2.2" height="6" fill="#909696"/><rect x="957.4" y="352.37" width="6.2" height="6" fill="#CDAD00"/></g>
<g><rect x="197.6" y="366.09" width="748.45" height="8.7" fill="#000"/><rect x="198.9" y="367.44" width="206.5" height="6" fill="#66CDAA"/><rect x="406.6" y="367.44" width="81.8" height="6" fill="#EEDFCC"/><rect x="489.6" y="367.44" width="87.8" height="6" fill="#8A2BE2"/><rect x="578.6" y="367.44" width="70.8" height="6" fill="#CD3333"/><rect x="650.6" y="367.44" width="42.8" height="6" fill="#FF0000"/><rect x="694.6" y="367.44" width="25.5" height="6" fill="#2E8B57"/><rect x="721.3" y="367.44" width="26.4" height="6" fill="#66CD00"/><rect x="748.9" y="367.44" width="30.5" height="6" fill="#008B8B"/><rect x="780.6" y="367.44" width="20.5" height="6" fill="#FF8C00"/><rect x="802.3" y="367.44" width="27.1" height="6" fill="#DB7093"/><rect x="830.6" y="367.44" width="8.8" height="6" fill="#00008B"/><rect x="840.6" y="367.44" width="6.2" height="6" fill="#CAFF70"/><rect x="848" y="367.44" width="3.5" height="6" fill="#CD853F"/><rect x="852.7" y="367.44" width="6.4" height="6" fill="#CD9B9B"/><rect x="860.3" y="367.44" width="2.2" height="6" fill="#2E8B57"/><rect x="863.7" y="367.44" width="18.8" height="6" fill="#8470FF"/><rect x="883.7" y="367.44" width="5.4" height="6" fill="#FF3E96"/><rect x="890.3" y="367.44" width="8.4" height="6" fill="#FFFF00"/><rect x="899.9" y="367.44" width="3.5" height="6" fill="#008B8B"/><rect x="904.6" y="367.44" width="1.9" height="6" fill="#8B6914"/><rect x="907.7" y="367.44" width="1.7" height="6" fill="#EED2EE"/><rect x="910.6" y="367.44" width="1.9" height="6" fill="#FF8247"/><rect x="916.4" y="367.44" width="2.2" height="6" fill="#1F2F58"/><rect x="920.3" y="367.44" width="3.3" height="6" fill="#9AA0A0"/><rect x="925.4" y="367.44" width="2" height="6" fill="#511010"/><rect x="928.9" y="367.44" width="5.4" height="6" fill="#CDAD00"/><rect x="935.7" y="367.44" width="3.6" height="6" fill="#14301E"/><rect x="941.4" y="367.44" width="3.6" height="6" fill="#5A1212"/></g>
<g><rect x="197.6" y="381.17" width="754.55" height="8.7" fill="#000"/><rect x="198.9" y="382.52" width="216" height="6" fill="#66CDAA"/><rect x="416.1" y="382.52" width="91.8" height="6" fill="#EEDFCC"/><rect x="509.1" y="382.52" width="96.3" height="6" fill="#8A2BE2"/><rect x="606.6" y="382.52" width="39.3" height="6" fill="#CD3333"/><rect x="647.1" y="382.52" width="47.3" height="6" fill="#FF0000"/><rect x="695.6" y="382.52" width="21.7" height="6" fill="#2E8B57"/><rect x="718.5" y="382.52" width="26.9" height="6" fill="#66CD00"/><rect x="746.6" y="382.52" width="40.7" height="6" fill="#008B8B"/><rect x="788.5" y="382.52" width="20.2" height="6" fill="#FF8C00"/><rect x="809.9" y="382.52" width="36.6" height="6" fill="#DB7093"/><rect x="847.7" y="382.52" width="7.4" height="6" fill="#00008B"/><rect x="856.3" y="382.52" width="10" height="6" fill="#CAFF70"/><rect x="867.5" y="382.52" width="3.6" height="6" fill="#CD853F"/><rect x="872.3" y="382.52" width="4.5" height="6" fill="#CD9B9B"/><rect x="878" y="382.52" width="2.5" height="6" fill="#2E8B57"/><rect x="881.7" y="382.52" width="12.7" height="6" fill="#8470FF"/><rect x="895.6" y="382.52" width="4.9" height="6" fill="#FF3E96"/><rect x="901.7" y="382.52" width="7.7" height="6" fill="#FFFF00"/><rect x="910.6" y="382.52" width="4.2" height="6" fill="#008B8B"/><rect x="916" y="382.52" width="0.8" height="6" fill="#8B6914"/><rect x="918" y="382.52" width="1.1" height="6" fill="#EED2EE"/><rect x="920.3" y="382.52" width="0.8" height="6" fill="#CD853F"/><rect x="924.3" y="382.52" width="1.7" height="6" fill="#547DC7"/><rect x="927.9" y="382.52" width="5" height="6" fill="#E0E6E6"/><rect x="934.3" y="382.52" width="1.4" height="6" fill="#460E0E"/><rect x="936.4" y="382.52" width="4.6" height="6" fill="#CDAD00"/><rect x="947.9" y="382.52" width="2.8" height="6" fill="#E8D8C0"/></g>
<g><rect x="197.6" y="396.25" width="792.15" height="8.7" fill="#000"/><rect x="198.9" y="397.6" width="276.5" height="6" fill="#66CDAA"/><rect x="476.6" y="397.6" width="68.3" height="6" fill="#EEDFCC"/><rect x="546.1" y="397.6" width="79.8" height="6" fill="#8A2BE2"/><rect x="627.1" y="397.6" width="35.8" height="6" fill="#CD3333"/><rect x="664.1" y="397.6" width="23.9" height="6" fill="#FF0000"/><rect x="689.2" y="397.6" width="11.6" height="6" fill="#2E8B57"/><rect x="702" y="397.6" width="23.4" height="6" fill="#66CD00"/><rect x="726.6" y="397.6" width="35.9" height="6" fill="#008B8B"/><rect x="763.7" y="397.6" width="15" height="6" fill="#FF8C00"/><rect x="779.9" y="397.6" width="62.4" height="6" fill="#DB7093"/><rect x="843.5" y="397.6" width="23.3" height="6" fill="#00008B"/><rect x="868" y="397.6" width="10.7" height="6" fill="#CAFF70"/><rect x="879.9" y="397.6" width="13.1" height="6" fill="#CD853F"/><rect x="894.2" y="397.6" width="6.9" height="6" fill="#CD9B9B"/><rect x="902.3" y="397.6" width="3.5" height="6" fill="#2E8B57"/><rect x="907" y="397.6" width="8.4" height="6" fill="#8470FF"/><rect x="916.6" y="397.6" width="8.8" height="6" fill="#FF3E96"/><rect x="926.6" y="397.6" width="7.8" height="6" fill="#FFFF00"/><rect x="935.6" y="397.6" width="18.8" height="6" fill="#008B8B"/><rect x="955.6" y="397.6" width="0.9" height="6" fill="#8B6914"/><rect x="957.7" y="397.6" width="4.8" height="6" fill="#EED2EE"/><rect x="967.9" y="397.6" width="2.4" height="6" fill="#6192E8"/><rect x="971.7" y="397.6" width="5.4" height="6" fill="#E0E6E6"/><rect x="979.3" y="397.6" width="4.7" height="6" fill="#CDAD00"/></g>
<g><rect x="197.6" y="411.32" width="822.15" height="8.7" fill="#000"/><rect x="198.9" y="412.67" width="348.5" height="6" fill="#66CDAA"/><rect x="548.6" y="412.67" width="67.8" height="6" fill="#EEDFCC"/><rect x="617.6" y="412.67" width="60.8" height="6" fill="#8A2BE2"/><rect x="679.6" y="412.67" width="28.7" height="6" fill="#CD3333"/><rect x="709.5" y="412.67" width="15.9" height="6" fill="#FF0000"/><rect x="726.6" y="412.67" width="8.2" height="6" fill="#2E8B57"/><rect x="736" y="412.67" width="5.1" height="6" fill="#66CD00"/><rect x="742.3" y="412.67" width="39.7" height="6" fill="#008B8B"/><rect x="783.2" y="412.67" width="10.5" height="6" fill="#FF8C00"/><rect x="794.9" y="412.67" width="98.8" height="6" fill="#DB7093"/><rect x="894.9" y="412.67" width="12.4" height="6" fill="#00008B"/><rect x="908.5" y="412.67" width="5.5" height="6" fill="#CAFF70"/><rect x="915.2" y="412.67" width="30.2" height="6" fill="#CD853F"/><rect x="946.6" y="412.67" width="6.8" height="6" fill="#CD9B9B"/><rect x="954.6" y="412.67" width="4.1" height="6" fill="#2E8B57"/><rect x="959.9" y="412.67" width="2.6" height="6" fill="#8470FF"/><rect x="963.7" y="412.67" width="18.6" height="6" fill="#FF3E96"/><rect x="983.5" y="412.67" width="0.9" height="6" fill="#556B2F"/><rect x="985.6" y="412.67" width="5.2" height="6" fill="#008B8B"/><rect x="992" y="412.67" width="8.5" height="6" fill="#8B6914"/><rect x="1001.7" y="412.67" width="1.7" height="6" fill="#EED2EE"/><rect x="1004.6" y="412.67" width="6.2" height="6" fill="#6495ED"/><rect x="1014" y="412.67" width="2.4" height="6" fill="#C8A900"/></g>
<g><rect x="197.6" y="426.4" width="786.75" height="8.7" fill="#000"/><rect x="198.9" y="427.75" width="326" height="6" fill="#66CDAA"/><rect x="526.1" y="427.75" width="68.8" height="6" fill="#EEDFCC"/><rect x="596.1" y="427.75" width="64.8" height="6" fill="#8A2BE2"/><rect x="662.1" y="427.75" width="26" height="6" fill="#CD3333"/><rect x="689.3" y="427.75" width="28.7" height="6" fill="#FF0000"/><rect x="719.2" y="427.75" width="17.6" height="6" fill="#2E8B57"/><rect x="738" y="427.75" width="17.1" height="6" fill="#66CD00"/><rect x="756.3" y="427.75" width="18.5" height="6" fill="#008B8B"/><rect x="776" y="427.75" width="15.8" height="6" fill="#FF8C00"/><rect x="793" y="427.75" width="65" height="6" fill="#DB7093"/><rect x="859.2" y="427.75" width="31.6" height="6" fill="#00008B"/><rect x="892" y="427.75" width="4.5" height="6" fill="#CAFF70"/><rect x="897.7" y="427.75" width="2" height="6" fill="#CD853F"/><rect x="900.9" y="427.75" width="3.9" height="6" fill="#CD9B9B"/><rect x="906" y="427.75" width="3.4" height="6" fill="#2E8B57"/><rect x="910.6" y="427.75" width="8.1" height="6" fill="#8470FF"/><rect x="919.9" y="427.75" width="5.5" height="6" fill="#FF3E96"/><rect x="926.6" y="427.75" width="7.8" height="6" fill="#FFFF00"/><rect x="935.6" y="427.75" width="3.1" height="6" fill="#008B8B"/><rect x="939.9" y="427.75" width="5.9" height="6" fill="#8B6914"/><rect x="947" y="427.75" width="5" height="6" fill="#EED2EE"/><rect x="953.2" y="427.75" width="1.2" height="6" fill="#FF8247"/><rect x="957.4" y="427.75" width="2.9" height="6" fill="#6495ED"/><rect x="961.4" y="427.75" width="2.2" height="6" fill="#909696"/><rect x="967.9" y="427.75" width="9.2" height="6" fill="#CDAD00"/></g>
<g><rect x="197.6" y="441.47" width="781.75" height="8.7" fill="#000"/><rect x="198.9" y="442.82" width="185" height="6" fill="#66CDAA"/><rect x="385.1" y="442.82" width="91.8" height="6" fill="#EEDFCC"/><rect x="478.1" y="442.82" width="73.3" height="6" fill="#8A2BE2"/><rect x="552.6" y="442.82" width="60.3" height="6" fill="#CD3333"/><rect x="614.1" y="442.82" width="56.3" height="6" fill="#FF0000"/><rect x="671.6" y="442.82" width="9.3" height="6" fill="#2E8B57"/><rect x="682.1" y="442.82" width="8.6" height="6" fill="#66CD00"/><rect x="691.9" y="442.82" width="44.2" height="6" fill="#008B8B"/><rect x="737.3" y="442.82" width="14.2" height="6" fill="#FF8C00"/><rect x="752.7" y="442.82" width="28.1" height="6" fill="#DB7093"/><rect x="782" y="442.82" width="112.8" height="6" fill="#00008B"/><rect x="896" y="442.82" width="2.7" height="6" fill="#CAFF70"/><rect x="899.9" y="442.82" width="6.9" height="6" fill="#CD853F"/><rect x="908" y="442.82" width="11.1" height="6" fill="#CD9B9B"/><rect x="920.3" y="442.82" width="2.7" height="6" fill="#2E8B57"/><rect x="924.2" y="442.82" width="4.5" height="6" fill="#8470FF"/><rect x="929.9" y="442.82" width="2.1" height="6" fill="#FF3E96"/><rect x="933.2" y="442.82" width="4.2" height="6" fill="#FFFF00"/><rect x="938.6" y="442.82" width="1.5" height="6" fill="#008B8B"/><rect x="941.3" y="442.82" width="6.2" height="6" fill="#8B0000"/><rect x="948.7" y="442.82" width="7.6" height="6" fill="#6495ED"/><rect x="960.7" y="442.82" width="2.2" height="6" fill="#45450F"/><rect x="967.9" y="442.82" width="5" height="6" fill="#FFDAB9"/><rect x="974" y="442.82" width="3.4" height="6" fill="#CD3333"/></g>
<g><rect x="197.6" y="456.55" width="767.05" height="8.7" fill="#000"/><rect x="198.9" y="457.9" width="240" height="6" fill="#66CDAA"/><rect x="440.1" y="457.9" width="91.8" height="6" fill="#EEDFCC"/><rect x="533.1" y="457.9" width="65.3" height="6" fill="#8A2BE2"/><rect x="599.6" y="457.9" width="33.8" height="6" fill="#CD3333"/><rect x="634.6" y="457.9" width="40.8" height="6" fill="#FF0000"/><rect x="676.6" y="457.9" width="16.4" height="6" fill="#2E8B57"/><rect x="694.2" y="457.9" width="20.6" height="6" fill="#66CD00"/><rect x="716" y="457.9" width="33" height="6" fill="#008B8B"/><rect x="750.2" y="457.9" width="27.1" height="6" fill="#FF8C00"/><rect x="778.5" y="457.9" width="12.8" height="6" fill="#DB7093"/><rect x="792.5" y="457.9" width="9.8" height="6" fill="#00008B"/><rect x="803.5" y="457.9" width="8.5" height="6" fill="#CAFF70"/><rect x="813.2" y="457.9" width="7.6" height="6" fill="#CD853F"/><rect x="822" y="457.9" width="7.1" height="6" fill="#CD9B9B"/><rect x="830.3" y="457.9" width="2" height="6" fill="#2E8B57"/><rect x="833.5" y="457.9" width="8" height="6" fill="#8470FF"/><rect x="842.7" y="457.9" width="6" height="6" fill="#FF3E96"/><rect x="849.9" y="457.9" width="7.4" height="6" fill="#FFFF00"/><rect x="858.5" y="457.9" width="4.9" height="6" fill="#008B8B"/><rect x="864.6" y="457.9" width="13.1" height="6" fill="#8B6914"/><rect x="879.7" y="457.9" width="1.4" height="6" fill="#C66537"/><rect x="884.3" y="457.9" width="3.6" height="6" fill="#6495ED"/><rect x="890.4" y="457.9" width="1.7" height="6" fill="#C2B5A1"/><rect x="894.6" y="457.9" width="1.8" height="6" fill="#3F3F0D"/><rect x="898.6" y="457.9" width="2.1" height="6" fill="#EA3F00"/><rect x="904" y="457.9" width="7.1" height="6" fill="#A5DCE0"/><rect x="912.9" y="457.9" width="31.1" height="6" fill="#72DDB7"/><rect x="945.7" y="457.9" width="2.9" height="6" fill="#9AA0A0"/><rect x="952.6" y="457.9" width="3.1" height="6" fill="#66CD00"/><rect x="956.9" y="457.9" width="6.7" height="6" fill="#008B8B"/></g>
<g><rect x="197.6" y="471.63" width="762.05" height="8.7" fill="#000"/><rect x="198.9" y="472.98" width="249" height="6" fill="#66CDAA"/><rect x="449.1" y="472.98" width="122.3" height="6" fill="#EEDFCC"/><rect x="572.6" y="472.98" width="87.8" height="6" fill="#8A2BE2"/><rect x="661.6" y="472.98" width="48.2" height="6" fill="#CD3333"/><rect x="711" y="472.98" width="45.3" height="6" fill="#FF0000"/><rect x="757.5" y="472.98" width="27.6" height="6" fill="#2E8B57"/><rect x="786.3" y="472.98" width="24.2" height="6" fill="#66CD00"/><rect x="811.7" y="472.98" width="23.4" height="6" fill="#008B8B"/><rect x="836.3" y="472.98" width="21" height="6" fill="#FF8C00"/><rect x="858.5" y="472.98" width="7.3" height="6" fill="#DB7093"/><rect x="867" y="472.98" width="4" height="6" fill="#00008B"/><rect x="872.2" y="472.98" width="8.3" height="6" fill="#CAFF70"/><rect x="881.7" y="472.98" width="8.8" height="6" fill="#CD853F"/><rect x="891.7" y="472.98" width="2.7" height="6" fill="#CD9B9B"/><rect x="895.6" y="472.98" width="0.9" height="6" fill="#2E8B57"/><rect x="897.7" y="472.98" width="8.6" height="6" fill="#8470FF"/><rect x="907.5" y="472.98" width="4.8" height="6" fill="#FF3E96"/><rect x="913.5" y="472.98" width="4.5" height="6" fill="#FFFF00"/><rect x="919.2" y="472.98" width="4.1" height="6" fill="#008B8B"/><rect x="924.5" y="472.98" width="4.2" height="6" fill="#8B6914"/><rect x="931" y="472.98" width="1.9" height="6" fill="#E0723E"/><rect x="936.4" y="472.98" width="1.6" height="6" fill="#527AC2"/><rect x="938.3" y="472.98" width="1.7" height="6" fill="#D66D3B"/><rect x="941.4" y="472.98" width="2.2" height="6" fill="#DACBB4"/><rect x="945.7" y="472.98" width="2.2" height="6" fill="#45450F"/><rect x="954.3" y="472.98" width="2.1" height="6" fill="#444444"/></g>
<g><rect x="197.6" y="486.7" width="781.75" height="8.7" fill="#000"/><rect x="198.9" y="488.05" width="306.5" height="6" fill="#66CDAA"/><rect x="506.6" y="488.05" width="95.3" height="6" fill="#EEDFCC"/><rect x="603.1" y="488.05" width="75.8" height="6" fill="#8A2BE2"/><rect x="680.1" y="488.05" width="57.9" height="6" fill="#CD3333"/><rect x="739.2" y="488.05" width="38.1" height="6" fill="#FF0000"/><rect x="778.5" y="488.05" width="23.5" height="6" fill="#2E8B57"/><rect x="803.2" y="488.05" width="19.3" height="6" fill="#66CD00"/><rect x="823.7" y="488.05" width="20.4" height="6" fill="#008B8B"/><rect x="845.3" y="488.05" width="22.7" height="6" fill="#FF8C00"/><rect x="869.2" y="488.05" width="4.2" height="6" fill="#DB7093"/><rect x="874.6" y="488.05" width="2.7" height="6" fill="#00008B"/><rect x="878.5" y="488.05" width="7.8" height="6" fill="#CAFF70"/><rect x="887.5" y="488.05" width="15.5" height="6" fill="#CD853F"/><rect x="904.2" y="488.05" width="6.2" height="6" fill="#CD9B9B"/><rect x="911.6" y="488.05" width="0.9" height="6" fill="#2E8B57"/><rect x="913.7" y="488.05" width="10.3" height="6" fill="#8470FF"/><rect x="925.2" y="488.05" width="4.9" height="6" fill="#FF3E96"/><rect x="931.3" y="488.05" width="3.1" height="6" fill="#FFFF00"/><rect x="935.6" y="488.05" width="6.4" height="6" fill="#008B8B"/><rect x="943.2" y="488.05" width="7.9" height="6" fill="#8B6914"/><rect x="952.3" y="488.05" width="2.1" height="6" fill="#EED2EE"/><rect x="955.4" y="488.05" width="1.7" height="6" fill="#302315"/><rect x="959.3" y="488.05" width="2.1" height="6" fill="#1F2E56"/><rect x="963.6" y="488.05" width="2.1" height="6" fill="#444444"/><rect x="969.6" y="488.05" width="2.1" height="6" fill="#BC9F00"/><rect x="975.7" y="488.05" width="2.2" height="6" fill="#DACBB4"/></g>
<g><rect x="197.6" y="501.78" width="777.45" height="8.7" fill="#000"/><rect x="198.9" y="503.13" width="312" height="6" fill="#66CDAA"/><rect x="512.1" y="503.13" width="67.8" height="6" fill="#EEDFCC"/><rect x="581.1" y="503.13" width="66.3" height="6" fill="#8A2BE2"/><rect x="648.6" y="503.13" width="20.8" height="6" fill="#CD3333"/><rect x="670.6" y="503.13" width="60.9" height="6" fill="#FF0000"/><rect x="732.7" y="503.13" width="19.3" height="6" fill="#2E8B57"/><rect x="753.2" y="503.13" width="19.8" height="6" fill="#66CD00"/><rect x="774.2" y="503.13" width="14.8" height="6" fill="#008B8B"/><rect x="790.2" y="503.13" width="30.6" height="6" fill="#FF8C00"/><rect x="822" y="503.13" width="5.5" height="6" fill="#DB7093"/><rect x="828.7" y="503.13" width="21.4" height="6" fill="#00008B"/><rect x="851.3" y="503.13" width="13.5" height="6" fill="#CAFF70"/><rect x="866" y="503.13" width="34.8" height="6" fill="#CD853F"/><rect x="902" y="503.13" width="2" height="6" fill="#CD9B9B"/><rect x="905.2" y="503.13" width="3.9" height="6" fill="#2E8B57"/><rect x="910.3" y="503.13" width="7.7" height="6" fill="#8470FF"/><rect x="919.2" y="503.13" width="7.3" height="6" fill="#FF3E96"/><rect x="927.7" y="503.13" width="8.6" height="6" fill="#FFFF00"/><rect x="937.5" y="503.13" width="5" height="6" fill="#008B8B"/><rect x="943.7" y="503.13" width="13.6" height="6" fill="#8B6914"/><rect x="958.6" y="503.13" width="2.1" height="6" fill="#352617"/><rect x="962.6" y="503.13" width="2.4" height="6" fill="#6192E8"/><rect x="968.6" y="503.13" width="5.7" height="6" fill="#1A0C0C"/></g>
<g><rect x="197.6" y="516.85" width="770.35" height="8.7" fill="#000"/><rect x="198.9" y="518.2" width="235" height="6" fill="#66CDAA"/><rect x="435.1" y="518.2" width="94.3" height="6" fill="#EEDFCC"/><rect x="530.6" y="518.2" width="82.8" height="6" fill="#8A2BE2"/><rect x="614.6" y="518.2" width="77.9" height="6" fill="#CD3333"/><rect x="693.7" y="518.2" width="42.1" height="6" fill="#FF0000"/><rect x="737" y="518.2" width="32.1" height="6" fill="#2E8B57"/><rect x="770.3" y="518.2" width="25.1" height="6" fill="#66CD00"/><rect x="796.6" y="518.2" width="23.9" height="6" fill="#008B8B"/><rect x="821.7" y="518.2" width="23.1" height="6" fill="#FF8C00"/><rect x="846" y="518.2" width="12.4" height="6" fill="#DB7093"/><rect x="859.6" y="518.2" width="11.5" height="6" fill="#00008B"/><rect x="872.3" y="518.2" width="9.2" height="6" fill="#CAFF70"/><rect x="882.7" y="518.2" width="9.3" height="6" fill="#CD853F"/><rect x="893.2" y="518.2" width="6.5" height="6" fill="#CD9B9B"/><rect x="900.9" y="518.2" width="6.4" height="6" fill="#2E8B57"/><rect x="908.5" y="518.2" width="6.2" height="6" fill="#8470FF"/><rect x="915.9" y="518.2" width="4.9" height="6" fill="#FF3E96"/><rect x="922" y="518.2" width="6" height="6" fill="#FFFF00"/><rect x="929.2" y="518.2" width="5.2" height="6" fill="#008B8B"/><rect x="935.6" y="518.2" width="3.8" height="6" fill="#8B6914"/><rect x="940.6" y="518.2" width="3.1" height="6" fill="#EED2EE"/><rect x="944.9" y="518.2" width="2.8" height="6" fill="#FF8247"/><rect x="948.9" y="518.2" width="2.2" height="6" fill="#6495ED"/><rect x="954.3" y="518.2" width="2.1" height="6" fill="#1F2E56"/></g>
<g><rect x="197.6" y="531.93" width="781.75" height="8.7" fill="#000"/><rect x="198.9" y="533.28" width="235.5" height="6" fill="#66CDAA"/><rect x="435.6" y="533.28" width="81.3" height="6" fill="#EEDFCC"/><rect x="518.1" y="533.28" width="72.8" height="6" fill="#8A2BE2"/><rect x="592.1" y="533.28" width="60.3" height="6" fill="#CD3333"/><rect x="653.6" y="533.28" width="29.4" height="6" fill="#FF0000"/><rect x="684.2" y="533.28" width="35.9" height="6" fill="#2E8B57"/><rect x="721.3" y="533.28" width="29.5" height="6" fill="#66CD00"/><rect x="752" y="533.28" width="75.5" height="6" fill="#008B8B"/><rect x="828.7" y="533.28" width="21.4" height="6" fill="#FF8C00"/><rect x="851.3" y="533.28" width="1.7" height="6" fill="#DB7093"/><rect x="854.2" y="533.28" width="13.8" height="6" fill="#00008B"/><rect x="869.2" y="533.28" width="5.2" height="6" fill="#CAFF70"/><rect x="875.6" y="533.28" width="13.5" height="6" fill="#CD853F"/><rect x="890.3" y="533.28" width="8.4" height="6" fill="#CD9B9B"/><rect x="899.9" y="533.28" width="5.9" height="6" fill="#2E8B57"/><rect x="907" y="533.28" width="9.5" height="6" fill="#8470FF"/><rect x="917.7" y="533.28" width="14.8" height="6" fill="#FF3E96"/><rect x="933.7" y="533.28" width="6.8" height="6" fill="#FFFF00"/><rect x="941.7" y="533.28" width="13" height="6" fill="#008B8B"/><rect x="956.9" y="533.28" width="2.4" height="6" fill="#969C9C"/><rect x="959.7" y="533.28" width="2.4" height="6" fill="#F97F45"/><rect x="964.3" y="533.28" width="1.7" height="6" fill="#102819"/><rect x="966.9" y="533.28" width="2.1" height="6" fill="#5C89DA"/><rect x="971.1" y="533.28" width="2" height="6" fill="#8A9090"/></g>
<g><rect x="197.6" y="547.01" width="843.85" height="8.7" fill="#000"/><rect x="198.9" y="548.36" width="396" height="6" fill="#66CDAA"/><rect x="596.1" y="548.36" width="99.5" height="6" fill="#EEDFCC"/><rect x="696.8" y="548.36" width="51.9" height="6" fill="#8A2BE2"/><rect x="749.9" y="548.36" width="13.8" height="6" fill="#CD3333"/><rect x="764.9" y="548.36" width="5.2" height="6" fill="#FF0000"/><rect x="771.3" y="548.36" width="4.5" height="6" fill="#2E8B57"/><rect x="777" y="548.36" width="4.1" height="6" fill="#66CD00"/><rect x="782.3" y="548.36" width="28.5" height="6" fill="#008B8B"/><rect x="812" y="548.36" width="5.3" height="6" fill="#FF8C00"/><rect x="818.5" y="548.36" width="77.3" height="6" fill="#DB7093"/><rect x="897" y="548.36" width="2" height="6" fill="#CAFF70"/><rect x="900.2" y="548.36" width="42.3" height="6" fill="#CD853F"/><rect x="943.7" y="548.36" width="1.4" height="6" fill="#CD9B9B"/><rect x="946.3" y="548.36" width="1.7" height="6" fill="#2E8B57"/><rect x="949.2" y="548.36" width="68.1" height="6" fill="#FF3E96"/><rect x="1018.9" y="548.36" width="2.1" height="6" fill="#BC9F00"/><rect x="1024.6" y="548.36" width="7.1" height="6" fill="#6495ED"/><rect x="1033.6" y="548.36" width="2.1" height="6" fill="#CED3D3"/><rect x="1036.9" y="548.36" width="2" height="6" fill="#7C26CB"/></g>
<g><rect x="197.6" y="562.08" width="858.45" height="8.7" fill="#000"/><rect x="198.9" y="563.43" width="486.8" height="6" fill="#66CDAA"/><rect x="686.9" y="563.43" width="57.8" height="6" fill="#EEDFCC"/><rect x="745.9" y="563.43" width="20.9" height="6" fill="#8A2BE2"/><rect x="768" y="563.43" width="15.7" height="6" fill="#CD3333"/><rect x="784.9" y="563.43" width="1.6" height="6" fill="#8B0000"/><rect x="787.7" y="563.43" width="1.7" height="6" fill="#2E8B57"/><rect x="790.6" y="563.43" width="0.9" height="6" fill="#3A2A1A"/><rect x="792.7" y="563.43" width="1.7" height="6" fill="#DB7093"/><rect x="795.6" y="563.43" width="64.1" height="6" fill="#CD853F"/><rect x="864.6" y="563.43" width="137.9" height="6" fill="#FF3E96"/><rect x="1003.7" y="563.43" width="37.1" height="6" fill="#8B6914"/><rect x="1046.4" y="563.43" width="2.5" height="6" fill="#FF4500"/><rect x="1050.7" y="563.43" width="4.3" height="6" fill="#3CB371"/></g>
<g><rect x="197.6" y="577.16" width="807.05" height="8.7" fill="#000"/><rect x="198.9" y="578.51" width="371" height="6" fill="#66CDAA"/><rect x="571.1" y="578.51" width="90.8" height="6" fill="#EEDFCC"/><rect x="663.1" y="578.51" width="72" height="6" fill="#8A2BE2"/><rect x="736.3" y="578.51" width="32" height="6" fill="#CD3333"/><rect x="769.5" y="578.51" width="21" height="6" fill="#FF0000"/><rect x="791.7" y="578.51" width="15.8" height="6" fill="#2E8B57"/><rect x="808.7" y="578.51" width="11.8" height="6" fill="#66CD00"/><rect x="821.7" y="578.51" width="12.4" height="6" fill="#008B8B"/><rect x="835.3" y="578.51" width="20.5" height="6" fill="#FF8C00"/><rect x="857" y="578.51" width="39.5" height="6" fill="#DB7093"/><rect x="897.7" y="578.51" width="18.1" height="6" fill="#00008B"/><rect x="917" y="578.51" width="7.1" height="6" fill="#CAFF70"/><rect x="925.3" y="578.51" width="5.1" height="6" fill="#CD853F"/><rect x="931.6" y="578.51" width="3.2" height="6" fill="#CD9B9B"/><rect x="936" y="578.51" width="2.3" height="6" fill="#2E8B57"/><rect x="939.5" y="578.51" width="4.2" height="6" fill="#8470FF"/><rect x="944.9" y="578.51" width="11.2" height="6" fill="#FF3E96"/><rect x="957.3" y="578.51" width="4.2" height="6" fill="#FFFF00"/><rect x="962.7" y="578.51" width="1.7" height="6" fill="#008B8B"/><rect x="965.6" y="578.51" width="17.7" height="6" fill="#8B6914"/><rect x="985.4" y="578.51" width="1.5" height="6" fill="#CC6838"/><rect x="988.6" y="578.51" width="5.7" height="6" fill="#6495ED"/><rect x="995.7" y="578.51" width="1.4" height="6" fill="#393939"/><rect x="998.3" y="578.51" width="2" height="6" fill="#42420E"/></g>
</g>
<g class="yl">
<text x="175.2" y="15.12">acceptor 3. 1 year</text>
<text x="175.2" y="30.2">acceptor 3. d43</text>
<text x="175.2" y="45.27">acceptor 3. d42</text>
<text x="175.2" y="60.35">acceptor 3. d30</text>
<text x="175.2" y="75.42">acceptor 3. d15</text>
<text x="175.2" y="90.5">acceptor 3. d10</text>
<text x="175.2" y="105.58">acceptor 3. d7</text>
<text x="175.2" y="120.65">acceptor 3. d2</text>
<text x="175.2" y="135.73">acceptor 3 .d1</text>
<text x="175.2" y="150.8">acceptor 3. before RT</text>
<text x="175.2" y="165.88">acceptor 2. 1 year</text>
<text x="175.2" y="180.96">acceptor 2. d42</text>
<text x="175.2" y="196.03">acceptor 2. d30</text>
<text x="175.2" y="211.11">acceptor 2. d15</text>
<text x="175.2" y="226.18">acceptor 2. d10</text>
<text x="175.2" y="241.26">acceptor 2. d7</text>
<text x="175.2" y="256.34">acceptor 2. d2</text>
<text x="175.2" y="271.41">acceptor 2. d1</text>
<text x="175.2" y="286.49">acceptor 2. before RT</text>
<text x="175.2" y="301.56">acceptor 1. 1year</text>
<text x="175.2" y="316.64">acceptor 1. d43</text>
<text x="175.2" y="331.72">acceptor 1. d42</text>
<text x="175.2" y="346.79">acceptor 1. d30</text>
<text x="175.2" y="361.87">acceptor 1. d15</text>
<text x="175.2" y="376.94">acceptor 1. d10</text>
<text x="175.2" y="392.02">acceptor 1. d7</text>
<text x="175.2" y="407.1">acceptor 1. d2</text>
<text x="175.2" y="422.17">acceptor.1..d1</text>
<text x="175.2" y="437.25">acceptor 1. before RT</text>
<text x="175.2" y="452.32">donor. 1year</text>
<text x="175.2" y="467.4">donor. d43</text>
<text x="175.2" y="482.48">donor. d42</text>
<text x="175.2" y="497.55">donor. d30</text>
<text x="175.2" y="512.63">donor. d15</text>
<text x="175.2" y="527.7">donor. d10</text>
<text x="175.2" y="542.78">donor. d7</text>
<text x="175.2" y="557.86">donor. d2</text>
<text x="175.2" y="572.93">donor. d1</text>
<text x="175.2" y="588.01">donor. before RT</text>
</g>
<path d="M198.3 608.4H1071.8M198.3 608.4V619.4M373 608.4V619.4M547.7 608.4V619.4M722.4 608.4V619.4M897.1 608.4V619.4M1071.8 608.4V619.4" fill="none" stroke="#222" stroke-width="1.3"/>
<g class="tk">
<text transform="translate(206.9 647.1) rotate(-90) scale(1 1.05)" x="0" y="0">0.0</text>
<text transform="translate(381.6 647.1) rotate(-90) scale(1 1.05)" x="0" y="0">0.2</text>
<text transform="translate(556.3 647.1) rotate(-90) scale(1 1.05)" x="0" y="0">0.4</text>
<text transform="translate(731 647.1) rotate(-90) scale(1 1.05)" x="0" y="0">0.6</text>
<text transform="translate(905.7 647.1) rotate(-90) scale(1 1.05)" x="0" y="0">0.8</text>
<text transform="translate(1080.4 647.1) rotate(-90) scale(1 1.05)" x="0" y="0">1.0</text>
</g>
<text class="tt" x="634.5" y="691">Relative abundance (%)</text>
<g class="lg">
<rect x="1095" y="33.45" width="6.1" height="6.1" fill="#66CDAA"/><text x="1111.3" y="43.9">Prevotellaceae</text>
<rect x="1095" y="55.42" width="6.1" height="6.1" fill="#EEDFCC"/><text x="1111.3" y="65.87">Lachnospiraceae</text>
<rect x="1095" y="77.39" width="6.1" height="6.1" fill="#8A2BE2"/><text x="1111.3" y="87.84">Ruminococcaceae</text>
<rect x="1095" y="99.36" width="6.1" height="6.1" fill="#CD3333"/><text x="1111.3" y="109.81">Acidaminococcaceae</text>
<rect x="1095" y="121.33" width="6.1" height="6.1" fill="#FF0000"/><text x="1111.3" y="131.78">Rikenellaceae</text>
<rect x="1095" y="143.3" width="6.1" height="6.1" fill="#2E8B57"/><text x="1111.3" y="153.75">Christensenellaceae</text>
<rect x="1095" y="165.27" width="6.1" height="6.1" fill="#66CD00"/><text x="1111.3" y="175.72">BS11 gut group</text>
<rect x="1095" y="187.24" width="6.1" height="6.1" fill="#008B8B"/><text x="1111.3" y="197.69">Fibrobacteraceae</text>
<rect x="1095" y="209.21" width="6.1" height="6.1" fill="#FF8C00"/><text x="1111.3" y="219.66">Bacteroidales; S24−7</text>
<rect x="1095" y="231.18" width="6.1" height="6.1" fill="#DB7093"/><text x="1111.3" y="241.63">Succinivibrionaceae</text>
<rect x="1095" y="253.15" width="6.1" height="6.1" fill="#00008B"/><text x="1111.3" y="263.6">RF16</text>
<rect x="1095" y="275.12" width="6.1" height="6.1" fill="#CAFF70"/><text x="1111.3" y="285.57">Bacteroidales;Other</text>
<rect x="1095" y="297.09" width="6.1" height="6.1" fill="#CD853F"/><text x="1111.3" y="307.54">Erysipelotrichaceae</text>
<rect x="1095" y="319.06" width="6.1" height="6.1" fill="#CD9B9B"/><text x="1111.3" y="329.51">Spirochaetaceae</text>
<rect x="1095" y="341.03" width="6.1" height="6.1" fill="#2E8B57"/><text x="1111.3" y="351.48">Unassigned</text>
<rect x="1095" y="363" width="6.1" height="6.1" fill="#8470FF"/><text x="1111.3" y="373.45">Candidate division TM7</text>
<rect x="1095" y="384.97" width="6.1" height="6.1" fill="#FF3E96"/><text x="1111.3" y="395.42">Veillonellaceae</text>
<rect x="1095" y="406.94" width="6.1" height="6.1" fill="#FFFF00"/><text x="1111.3" y="417.39">Lentisphaerae; RFP12 gut group</text>
<rect x="1095" y="428.91" width="6.1" height="6.1" fill="#008B8B"/><text x="1111.3" y="439.36">Candidate division SR1</text>
<rect x="1095" y="450.88" width="6.1" height="6.1" fill="#8B6508"/><text x="1111.3" y="461.33">Bifidobacteriaceae</text>
<rect x="1095" y="472.85" width="6.1" height="6.1" fill="#EED2EE"/><text x="1111.3" y="483.3">Rhodospirillaceae</text>
<rect x="1095" y="494.82" width="6.1" height="6.1" fill="#FF8247"/><text x="1111.3" y="505.27">Coriobacteriaceae</text>
<rect x="1095" y="516.79" width="6.1" height="6.1" fill="#87CEFA"/><text x="1111.3" y="527.24">SHA−109</text>
<rect x="1095" y="538.76" width="6.1" height="6.1" fill="#8B0000"/><text x="1111.3" y="549.21">Clostridiales; vadinBB60</text>
<rect x="1095" y="560.73" width="6.1" height="6.1" fill="#32CD32"/><text x="1111.3" y="571.18">Bacteroidaceae</text>
</g>
</svg>
</body></html>
